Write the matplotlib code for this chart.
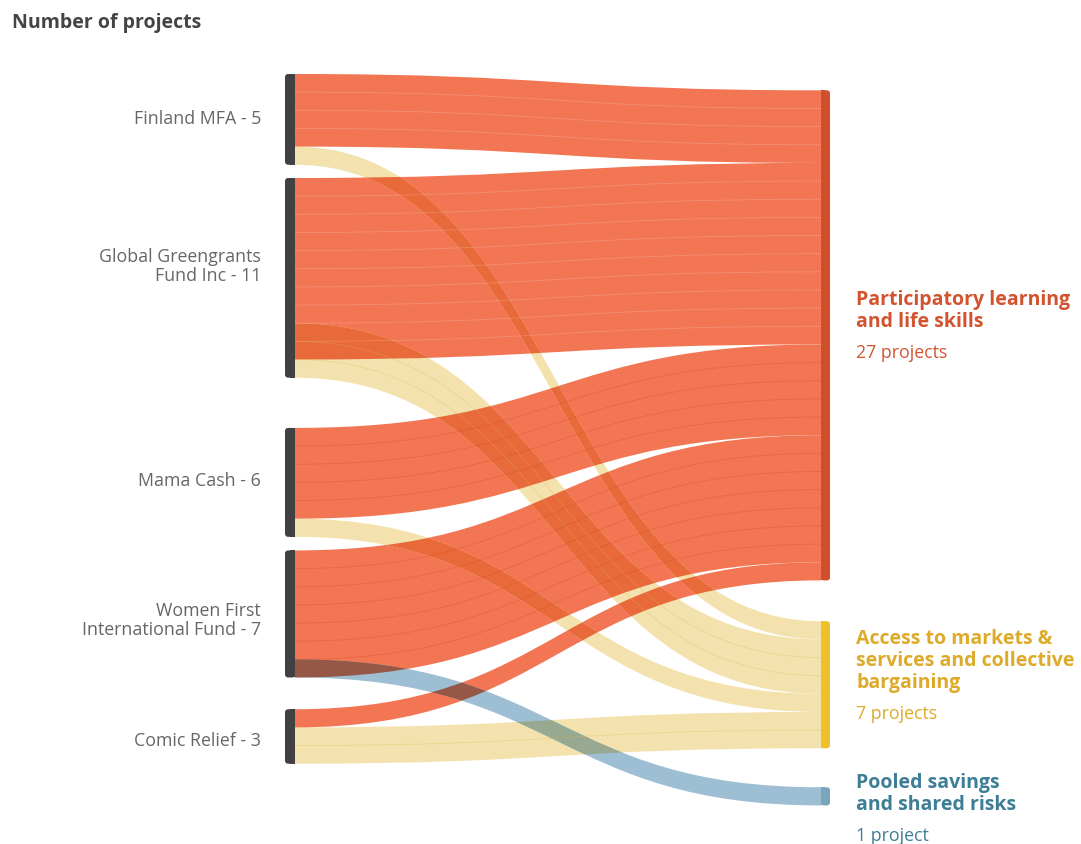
import matplotlib
matplotlib.use("Agg")
import matplotlib.pyplot as plt
from matplotlib.path import Path
from matplotlib.patches import PathPatch, FancyBboxPatch, Rectangle
from matplotlib.colors import to_rgb

plt.rcParams['font.family'] = ['Open Sans', 'DejaVu Sans']

# sources (funders) and their project counts
sources = ['Finland MFA', 'Global Greengrants\nFund Inc', 'Mama Cash',
           'Women First\nInternational Fund', 'Comic Relief']
source_counts = [5, 11, 6, 7, 3]

# targets (themes)
targets = ['Participatory learning\nand life skills',
           'Access to markets &\nservices and collective\nbargaining',
           'Pooled savings\nand shared risks']
target_counts = [27, 7, 1]
target_sub = ['27 projects', '7 projects', '1 project']

# links: source index, target index, number of projects, offset inside source node
link_src = [0, 1, 2, 3, 4, 0, 1, 2, 4, 3]
link_tgt = [0, 0, 0, 0, 0, 1, 1, 1, 1, 2]
link_val = [4, 10, 5, 7, 1, 1, 3, 1, 2, 1]
link_src_off = [0, 0, 0, 0, 0, 4, 8, 5, 1, 6]

# ---- layout (pixels horizontally, project units vertically) ----
PX = 18.15          # pixels per project
TOP = 74            # pixel row of the first node
src_top = [0, 5.73, 19.5, 26.25, 35.0]
tgt_top = [0.9, 30.15, 39.3]
X_L0, X_L1 = 285, 295
X_R0, X_R1 = 821, 830

link_colors = {0: '#F27654', 1: '#F4E2AE', 2: '#9EBFD3'}
node_colors = ['#CF4F2C', '#EEC02A', '#7AA6BD']
text_colors = ['#D3532F', '#DDAA2A', '#3D7E96']

fig = plt.figure(figsize=(10.81, 8.44), dpi=100)
ax = fig.add_axes([0, 0, 1, 1])
ax.set_xlim(0, 1081)
ax.set_ylim((844 - TOP) / PX, -TOP / PX)
ax.axis('off')


def u(px):
    return (px - TOP) / PX


def band(y0a, y0b, y1a, y1b):
    xm = (X_L1 + X_R0) / 2
    verts = [(X_L1, y0a), (xm, y0a), (xm, y1a), (X_R0, y1a),
             (X_R0, y1b), (xm, y1b), (xm, y0b), (X_L1, y0b), (X_L1, y0a)]
    codes = [Path.MOVETO, Path.CURVE4, Path.CURVE4, Path.CURVE4,
             Path.LINETO, Path.CURVE4, Path.CURVE4, Path.CURVE4, Path.CLOSEPOLY]
    return Path(verts, codes)


def curve(y0, y1):
    xm = (X_L1 + X_R0) / 2
    return Path([(X_L1, y0), (xm, y0), (xm, y1), (X_R0, y1)],
                [Path.MOVETO, Path.CURVE4, Path.CURVE4, Path.CURVE4])


# target offsets are stacked in link order
tgt_fill = [0.0] * len(targets)
paths = []
for s, t, v, so in zip(link_src, link_tgt, link_val, link_src_off):
    y0 = src_top[s] + so
    y1 = tgt_top[t] + tgt_fill[t]
    tgt_fill[t] += v
    paths.append((band(y0, y0 + v, y1, y1 + v), y0, y1, v, t))

patches = []
for p, y0, y1, v, t in paths:
    pp = PathPatch(p, facecolor=link_colors[t], edgecolor='none', zorder=1)
    ax.add_patch(pp)
    patches.append(pp)

# multiply blending where links of different colour overlap
for i in range(len(paths)):
    for j in range(i + 1, len(paths)):
        ti, tj = paths[i][4], paths[j][4]
        if ti == tj:
            continue
        ci, cj = to_rgb(link_colors[ti]), to_rgb(link_colors[tj])
        mix = tuple(a * b for a, b in zip(ci, cj))
        pp = PathPatch(paths[j][0], facecolor=mix, edgecolor='none', zorder=2)
        ax.add_patch(pp)
        pp.set_clip_path(patches[i])

# thin seams between single projects inside each link
for p, y0, y1, v, t in paths:
    rising = (y0 - y1) > 2
    for k in range(1, v):
        if t == 0:
            col, al = ('#D8401E', 0.3) if rising else ('white', 0.18)
        elif t == 1:
            col, al = '#DDB850', 0.35
        else:
            col, al = 'white', 0.2
        ax.add_patch(PathPatch(curve(y0 + k, y1 + k), facecolor='none',
                               edgecolor=col, alpha=al, lw=0.6, zorder=3))

asp = 1 / PX
# left nodes
for i, (name, n) in enumerate(zip(sources, source_counts)):
    ax.add_patch(FancyBboxPatch((X_L0, src_top[i]), X_L1 - X_L0, n,
                                boxstyle='round,pad=0,rounding_size=3',
                                mutation_aspect=asp, facecolor='#414042',
                                edgecolor='none', zorder=4))
    ax.add_patch(Rectangle((X_L0 + 5, src_top[i]), X_L1 - X_L0 - 5, n,
                           facecolor='#414042', edgecolor='none', zorder=4))

left_label_px = [119, 266.5, 481, 620.5, 741]
for i, (name, n) in enumerate(zip(sources, source_counts)):
    ax.text(261, u(left_label_px[i]), f'{name} - {n}', ha='right', va='center',
            fontsize=12.8, color='#666666', linespacing=1.05, multialignment='right')

# right nodes
for i, n in enumerate(target_counts):
    ax.add_patch(FancyBboxPatch((X_R0, tgt_top[i]), X_R1 - X_R0, n,
                                boxstyle='round,pad=0,rounding_size=3',
                                mutation_aspect=asp, facecolor=node_colors[i],
                                edgecolor='none', zorder=4))
    ax.add_patch(Rectangle((X_R0, tgt_top[i]), 4, n, facecolor=node_colors[i],
                           edgecolor='none', zorder=4))

title_px = [300, 639, 783]
for i, name in enumerate(targets):
    lines = name.split('\n')
    for k, line in enumerate(lines):
        ax.text(856, u(title_px[i] + 22 * k), line, ha='left', va='center',
                fontsize=14, fontweight='bold', color=text_colors[i])
    ax.text(856, u(title_px[i] + 22 * (len(lines) - 1) + 31), target_sub[i],
            ha='left', va='center', fontsize=12.8, color=text_colors[i])

ax.text(12, u(23), 'Number of projects', ha='left', va='center',
        fontsize=14, fontweight='bold', color='#444444')

fig.savefig('out.png', dpi=100)
